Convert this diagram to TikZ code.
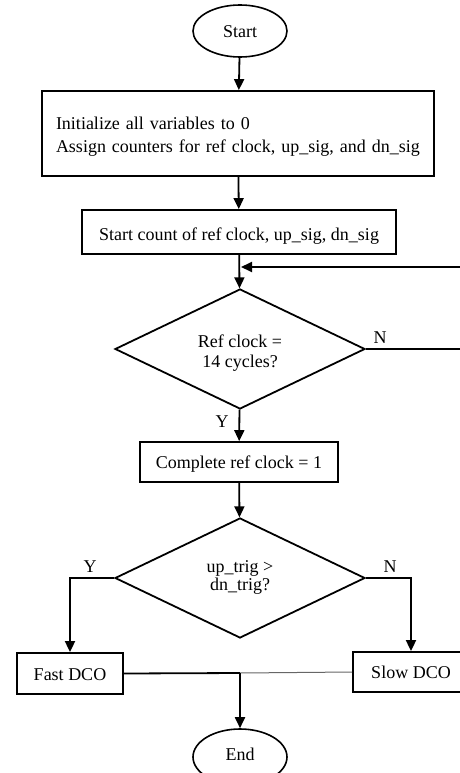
\documentclass[tikz,border=0pt]{standalone}
\usepackage{fontspec}
\setmainfont{Liberation Serif}
\usetikzlibrary{shapes.geometric,arrows.meta}
\begin{document}
\begin{tikzpicture}[x=1pt,y=-1pt,
  font=\fontsize{18}{24}\selectfont,
  box/.style={draw,line width=1.8pt,inner sep=0pt,align=center},
  term/.style={draw,ellipse,line width=1.6pt,minimum width=94pt,minimum height=52pt,inner sep=0pt},
  decision/.style={draw,diamond,line width=1.8pt,minimum width=250pt,minimum height=120pt,inner sep=0pt,align=center,aspect=2.08},
  conn/.style={line width=1.8pt},
  arr/.style={conn,-{Triangle[length=11pt,width=10pt]}},
  lbl/.style={inner sep=0pt}]
\useasboundingbox (0,0) rectangle (460,773);
\clip (0,0) rectangle (460,773);
\node[term,text height=18pt,text depth=4pt] (start) at (240,31) {Start};
\node[box,minimum width=392pt,minimum height=85pt,text width=364pt,align=left,
      font=\fontsize{18}{23}\selectfont,text height=14pt,text depth=23pt] (init) at (238,133.5)
      {Initialize all variables to 0\\Assign counters for ref clock, up\_sig, and dn\_sig};
\node[box,minimum width=314pt,minimum height=44pt,text height=20pt,text depth=4pt] (count) at (239,232)
      {Start count of ref clock, up\_sig, dn\_sig};
\node[decision,font=\fontsize{18}{20}\selectfont,text height=41pt,text depth=5pt] (d1) at (240,349)
      {Ref clock =\\14 cycles?};
\node[box,minimum width=198pt,minimum height=40pt,text height=16pt,text depth=4pt] (comp) at (239,462)
      {Complete ref clock = 1};
\node[decision,font=\fontsize{18}{14}\selectfont,text height=29pt,text depth=5pt] (d2) at (240,578)
      {up\_trig >\\dn\_trig?};
\node[box,minimum width=106pt,minimum height=41pt,text height=17pt,text depth=4pt] (fast) at (70,673.5) {Fast DCO};
\node[box,minimum width=116pt,minimum height=40pt,text height=16pt,text depth=4pt] (slow) at (411,672) {Slow DCO};
\node[term,minimum height=56pt,text height=10pt,text depth=4pt] (end) at (240,757) {End};
\coordinate (loopa) at (480,349);
\coordinate (loopb) at (480,267);
\coordinate (join) at (240,267);
\coordinate (merge) at (240,673);
\draw[arr] (start) -- (init);
\draw[arr] (init) -- (count);
\draw[arr] (count) -- (d1);
\draw[arr] (d1.east) -- (loopa) -- (loopb) -- ([xshift=1pt]join);
\draw[arr] (d1) -- (comp);
\draw[arr] (comp) -- (d2);
\draw[arr] (d2.west) -| (fast.north);
\draw[arr] (d2.east) -| (slow.north);
\draw[conn] (fast.east) -- (merge);
\draw[line width=1pt,black!60] (slow.west) -- (merge);
\draw[arr] (merge) -- (end);
\node[lbl] (n1) at (380,338) {N};
\node[lbl] (y1) at (222,422) {Y};
\node[lbl] (y2) at (90,567) {Y};
\node[lbl] (n2) at (390,567) {N};
\end{tikzpicture}
\end{document}
